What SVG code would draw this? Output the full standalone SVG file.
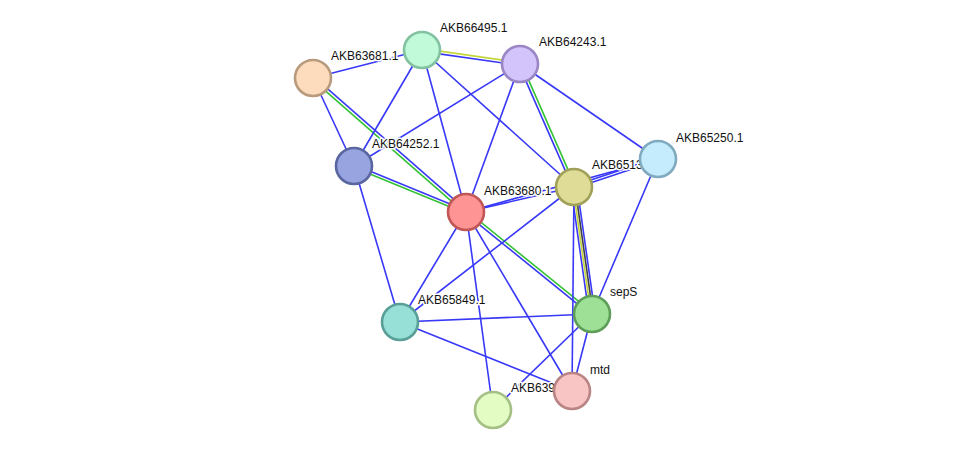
<svg xmlns="http://www.w3.org/2000/svg" width="975" height="455" viewBox="0 0 975 455">
<style>
.e{stroke:#3838f8;stroke-width:1.6;fill:none}
.g{stroke:#33c233;stroke-width:1.6;fill:none}
.y{stroke:#c4d63c;stroke-width:1.6;fill:none}
.k{stroke:#404040;stroke-width:1.6;fill:none}
.n{stroke-width:2.6}
.t{font-family:"Liberation Sans",Arial,sans-serif;font-size:12px;fill:#111;stroke:#fff;stroke-width:3;stroke-linejoin:round;paint-order:stroke}
</style>
<rect width="975" height="455" fill="#fff"/>
<g id="edges">
<line class="e" x1="313" y1="78" x2="422" y2="50"/>
<line class="e" x1="313" y1="78" x2="354" y2="166"/>
<line class="e" x1="314" y1="76.9" x2="467" y2="210.9"/>
<line class="g" x1="312" y1="79.1" x2="465" y2="213.1"/>
<line class="y" x1="422.2" y1="48.6" x2="520.2" y2="62.6"/>
<line class="e" x1="421.8" y1="51.4" x2="519.8" y2="65.4"/>
<line class="e" x1="422" y1="50" x2="354" y2="166"/>
<line class="e" x1="422" y1="50" x2="466" y2="212"/>
<line class="e" x1="422" y1="50" x2="574" y2="187"/>
<line class="e" x1="520" y1="64" x2="354" y2="166"/>
<line class="e" x1="520" y1="64" x2="466" y2="212"/>
<line class="e" x1="518.7" y1="64.6" x2="572.7" y2="187.6"/>
<line class="g" x1="521.3" y1="63.4" x2="575.3" y2="186.4"/>
<line class="e" x1="520" y1="64" x2="658" y2="159"/>
<line class="g" x1="353.5" y1="167.3" x2="465.5" y2="213.3"/>
<line class="e" x1="354.5" y1="164.7" x2="466.5" y2="210.7"/>
<line class="e" x1="354" y1="166" x2="400" y2="322"/>
<line class="e" x1="466" y1="212" x2="574" y2="187"/>
<line class="e" x1="466" y1="212" x2="658" y2="159"/>
<line class="e" x1="466" y1="212" x2="400" y2="322"/>
<line class="g" x1="466.9" y1="210.9" x2="592.9" y2="312.9"/>
<line class="e" x1="465.1" y1="213.1" x2="591.1" y2="315.1"/>
<line class="e" x1="466" y1="212" x2="572" y2="391"/>
<line class="e" x1="466" y1="212" x2="493" y2="410"/>
<line class="e" x1="574.4" y1="188.3" x2="658.4" y2="160.3"/>
<line class="e" x1="573.6" y1="185.7" x2="657.6" y2="157.7"/>
<line class="e" x1="571" y1="187.4" x2="589" y2="314.4"/>
<line class="y" x1="573" y1="187.1" x2="591" y2="314.1"/>
<line class="k" x1="575" y1="186.9" x2="593" y2="313.9"/>
<line class="e" x1="577" y1="186.6" x2="595" y2="313.6"/>
<line class="e" x1="574" y1="187" x2="572" y2="391"/>
<line class="e" x1="574" y1="187" x2="400" y2="322"/>
<line class="e" x1="658" y1="159" x2="592" y2="314"/>
<line class="e" x1="400" y1="322" x2="592" y2="314"/>
<line class="e" x1="400" y1="322" x2="572" y2="391"/>
<line class="e" x1="592" y1="314" x2="493" y2="410"/>
<line class="e" x1="592" y1="314" x2="572" y2="391"/>
</g>
<g id="AKB63681.1"><text class="t" x="331" y="60">AKB63681.1</text><circle class="n" cx="313" cy="78" r="18" fill="#fddcbe" stroke="#b89a7c"/></g>
<g id="AKB66495.1"><text class="t" x="440" y="32">AKB66495.1</text><circle class="n" cx="422" cy="50" r="18" fill="#c0fad8" stroke="#82c2a0"/></g>
<g id="AKB64243.1"><text class="t" x="539" y="46">AKB64243.1</text><circle class="n" cx="520" cy="64" r="18" fill="#d4c4fc" stroke="#9a86c4"/></g>
<g id="AKB64252.1"><text class="t" x="372" y="148">AKB64252.1</text><circle class="n" cx="354" cy="166" r="18" fill="#98a4e0" stroke="#5a66a0"/></g>
<g id="AKB63680.1"><text class="t" x="484" y="195">AKB63680.1</text><circle class="n" cx="466" cy="212" r="18" fill="#ff9494" stroke="#c05656"/></g>
<g id="AKB6513"><text class="t" x="592" y="169">AKB6513</text><circle class="n" cx="574" cy="187" r="18" fill="#dedc96" stroke="#a0a058"/></g>
<g id="AKB65250.1"><text class="t" x="676" y="142">AKB65250.1</text><circle class="n" cx="658" cy="159" r="18" fill="#c4ecfc" stroke="#80aac0"/></g>
<g id="AKB65849.1"><text class="t" x="418" y="304">AKB65849.1</text><circle class="n" cx="400" cy="322" r="18" fill="#96e0d8" stroke="#5a9e98"/></g>
<g id="sepS"><text class="t" x="610" y="296">sepS</text><circle class="n" cx="592" cy="314" r="18" fill="#9ee096" stroke="#5e9e58"/></g>
<g id="AKB639"><text class="t" x="511" y="392">AKB639</text><circle class="n" cx="493" cy="410" r="18" fill="#e2fcc4" stroke="#a4c084"/></g>
<g id="mtd"><text class="t" x="590" y="374">mtd</text><circle class="n" cx="572" cy="391" r="18" fill="#f8c4c4" stroke="#b88484"/></g>
</svg>
